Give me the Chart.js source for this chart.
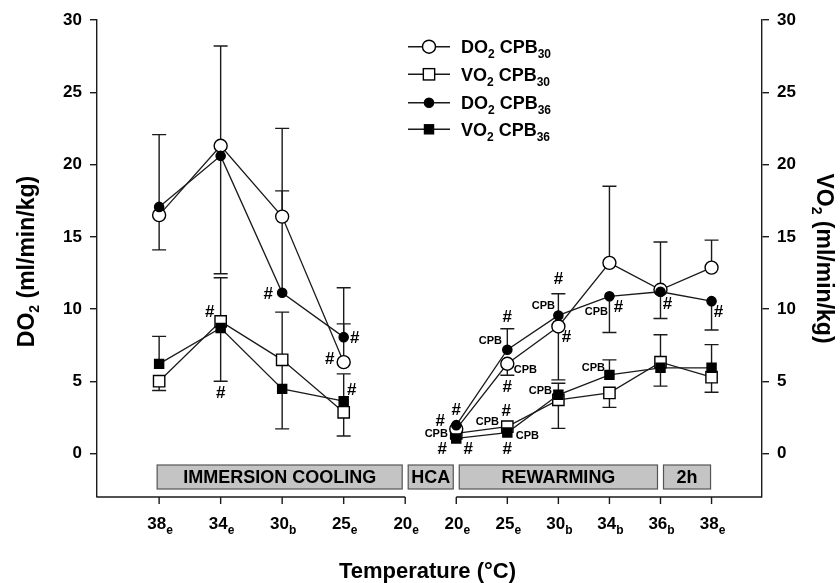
<!DOCTYPE html>
<html><head><meta charset="utf-8">
<script src="https://cdn.jsdelivr.net/npm/chart.js@4/dist/chart.umd.min.js"></script>
<style>html,body{margin:0;padding:0;background:#fff}#wrap{width:840px;height:583px}</style>
</head><body><div id="wrap"><canvas id="c" width="840" height="583"></canvas></div>
<script>
// ---- data ----
const tickMain = ['38','34','30','25','20','20','25','30','34','36','38'];
const tickSub  = ['e','e','b','e','e','e','e','b','b','b','e'];
const categoryX = [0,1,2,3,4,4.83,5.66,6.49,7.32,8.15,8.98];

const do2Cpb30 = [16.5, 21.3, 16.4, 6.33, null, 1.7, 6.22, 8.8, 13.2, 11.34, 12.87];
const vo2Cpb30 = [5.01, 9.15, 6.49, 2.86, null, 1.4, 1.87, 3.72, 4.2, 6.33, 5.29];
const do2Cpb36 = [17.07, 20.6, 11.13, 8.06, null, 1.97, 7.19, 9.56, 10.88, 11.2, 10.55];
const vo2Cpb36 = [6.21, 8.69, 4.48, 3.63, null, 1.05, 1.46, 4.07, 5.45, 5.94, 5.94];

const do2Cpb30Up   = [null, 6.9, 6.1, 2.65, null, null, null, null, 5.3, 3.3, 1.9];
const do2Cpb30Down = [2.4, null, null, null, null, null, 0.8, 3.7, null, null, null];
const vo2Cpb30Up   = [null, 3.02, 3.3, null, null, null, null, null, null, 1.9, null];
const vo2Cpb30Down = [0.64, null, 4.78, 1.64, null, null, null, 1.97, 1.0, null, 1.04];
const do2Cpb36Up   = [5.0, null, 7.05, 3.42, null, null, 1.45, 1.5, null, null, null];
const do2Cpb36Down = [null, 8.15, null, null, null, null, null, null, 2.5, 1.85, 2.0];
const vo2Cpb36Up   = [1.9, null, null, 1.89, null, null, null, 0.8, 1.04, null, 1.6];
const vo2Cpb36Down = [null, 3.68, null, null, null, null, null, null, null, 1.27, null];

const yTicks = [0,5,10,15,20,25,30];

const phases = [
  {label:'IMMERSION COOLING', from:0, to:4},
  {label:'HCA', from:4, to:5},
  {label:'REWARMING', from:5, to:9},
  {label:'2h', from:9, to:10}
];

// marks: category index, pixel nudge, value, text
const marks = [
  {i:1, dx:-11, v:9.79, t:'#'}, {i:1, dx:0, v:4.14, t:'#'},
  {i:2, dx:-14, v:11.0, t:'#'},
  {i:3, dx:11, v:7.95, t:'#'}, {i:3, dx:-14, v:6.51, t:'#'}, {i:3, dx:8, v:4.37, t:'#'},
  {i:5, dx:0, v:3.03, t:'#'}, {i:5, dx:-16, v:2.22, t:'#'}, {i:5, dx:-20, v:1.36, t:'CPB'},
  {i:5, dx:-14, v:0.28, t:'#'}, {i:5, dx:12, v:0.28, t:'#'},
  {i:6, dx:0, v:9.45, t:'#'}, {i:6, dx:-17, v:7.78, t:'CPB'}, {i:6, dx:18, v:5.8, t:'CPB'},
  {i:6, dx:0, v:4.6, t:'#'}, {i:6, dx:-1, v:2.91, t:'#'}, {i:6, dx:-20, v:2.22, t:'CPB'},
  {i:6, dx:20, v:1.25, t:'CPB'}, {i:6, dx:0, v:0.28, t:'#'},
  {i:7, dx:0, v:12.04, t:'#'}, {i:7, dx:-15, v:10.19, t:'CPB'}, {i:7, dx:8, v:8.02, t:'#'},
  {i:7, dx:-18, v:4.32, t:'CPB'},
  {i:8, dx:-13, v:9.79, t:'CPB'}, {i:8, dx:9, v:10.14, t:'#'}, {i:8, dx:-16, v:5.94, t:'CPB'},
  {i:9, dx:7, v:10.3, t:'#'},
  {i:10, dx:7, v:9.79, t:'#'}
];

// ---- chart ----
const FONT = '"Liberation Sans", Arial, Helvetica, sans-serif';
const INK = '#1a1a1a';
const toPts = arr => arr.map((v, k) => ({x: categoryX[k], y: v}));

const series = [
  {name:['DO','2',' CPB','30'], vals:do2Cpb30, up:do2Cpb30Up, down:do2Cpb30Down, style:'circle', r:6.5, fill:'#ffffff', order:1},
  {name:['VO','2',' CPB','30'], vals:vo2Cpb30, up:vo2Cpb30Up, down:vo2Cpb30Down, style:'rect', r:8, fill:'#ffffff', order:1},
  {name:['DO','2',' CPB','36'], vals:do2Cpb36, up:do2Cpb36Up, down:do2Cpb36Down, style:'circle', r:4.6, fill:'#000000', order:0},
  {name:['VO','2',' CPB','36'], vals:vo2Cpb36, up:vo2Cpb36Up, down:vo2Cpb36Down, style:'rect', r:6.4, fill:'#000000', order:0}
];

function rich(ctx, segs, x, y, align) {
  let w = 0;
  segs.forEach(s => { ctx.font = s.f; s.w = ctx.measureText(s.t).width; w += s.w; });
  let cx = align === 'center' ? x - w / 2 : (align === 'right' ? x - w : x);
  ctx.textAlign = 'left';
  ctx.textBaseline = 'alphabetic';
  segs.forEach(s => { ctx.font = s.f; ctx.fillText(s.t, cx, y + (s.dy || 0)); cx += s.w; });
  return w;
}

const decor = {
  id: 'decor',
  beforeDatasetsDraw(chart) {
    const ctx = chart.ctx, xs = chart.scales.x, ys = chart.scales.y;
    ctx.save();
    ctx.strokeStyle = INK; ctx.lineWidth = 1.4;
    series.forEach(s => {
      s.vals.forEach((v, k) => {
        if (v === null) return;
        const px = xs.getPixelForValue(categoryX[k]);
        [[s.up[k], 1], [s.down[k], -1]].forEach(([e, sg]) => {
          if (e === null || e === undefined) return;
          const y0 = ys.getPixelForValue(v), y1 = ys.getPixelForValue(v + sg * e);
          ctx.beginPath();
          ctx.moveTo(px, y0); ctx.lineTo(px, y1);
          ctx.moveTo(px - 7, y1); ctx.lineTo(px + 7, y1);
          ctx.stroke();
        });
      });
    });
    ctx.restore();
  },
  afterDraw(chart) {
    const ctx = chart.ctx, xs = chart.scales.x, ys = chart.scales.y, ca = chart.chartArea;
    const X = k => xs.getPixelForValue(categoryX[k]);
    ctx.save();
    ctx.fillStyle = '#000'; ctx.strokeStyle = INK;
    // broken x axis
    ctx.lineWidth = 1.4;
    ctx.beginPath();
    ctx.moveTo(ca.left, ca.bottom); ctx.lineTo(X(4), ca.bottom);
    ctx.moveTo(X(5), ca.bottom); ctx.lineTo(ca.right, ca.bottom);
    categoryX.forEach((_, k) => { ctx.moveTo(X(k), ca.bottom); ctx.lineTo(X(k), ca.bottom + 7); });
    ctx.stroke();
    // x tick labels
    tickMain.forEach((m, k) => {
      rich(ctx, [{t:m, f:'bold 17px ' + FONT}, {t:tickSub[k], f:'bold 12px ' + FONT, dy:5}], X(k) + 1, ca.bottom + 32, 'center');
    });
    // phase boxes
    phases.forEach(p => {
      const l = X(p.from) + (p.from === 0 ? -2 : 3), r = X(p.to) - (p.to === 10 ? 1 : 3);
      const t = ca.bottom - 32, b = ca.bottom - 8;
      ctx.fillStyle = '#c4c4c4'; ctx.fillRect(l, t, r - l, b - t);
      ctx.strokeStyle = '#555'; ctx.lineWidth = 1.2; ctx.strokeRect(l, t, r - l, b - t);
      ctx.fillStyle = '#000'; ctx.font = 'bold 18px ' + FONT;
      ctx.textAlign = 'center'; ctx.textBaseline = 'middle';
      ctx.fillText(p.label, (l + r) / 2, (t + b) / 2 + 1);
    });
    // marks
    ctx.textAlign = 'center'; ctx.textBaseline = 'middle'; ctx.fillStyle = '#000';
    marks.forEach(m => {
      ctx.font = (m.t === '#' ? 'bold 17px ' : 'bold 11px ') + FONT;
      ctx.fillText(m.t, X(m.i) + m.dx, ys.getPixelForValue(m.v));
    });
    // legend
    const rows = [46.7, 74.3, 102.7, 129.3];
    series.forEach((s, k) => {
      const y = rows[k];
      ctx.strokeStyle = INK; ctx.lineWidth = 1.4;
      ctx.beginPath(); ctx.moveTo(408, y); ctx.lineTo(450, y); ctx.stroke();
      ctx.fillStyle = s.fill; ctx.strokeStyle = '#000'; ctx.lineWidth = 1.4;
      if (s.style === 'circle') { ctx.beginPath(); ctx.arc(429, y, s.r, 0, Math.PI * 2); ctx.fill(); ctx.stroke(); }
      else { const h = s.r * Math.SQRT1_2; ctx.fillRect(429 - h, y - h, 2 * h, 2 * h); ctx.strokeRect(429 - h, y - h, 2 * h, 2 * h); }
      ctx.fillStyle = '#000';
      rich(ctx, [
        {t:s.name[0], f:'bold 18px ' + FONT}, {t:s.name[1], f:'bold 12px ' + FONT, dy:5},
        {t:s.name[2], f:'bold 18px ' + FONT}, {t:s.name[3], f:'bold 12px ' + FONT, dy:5}
      ], 461, y + 6.5, 'left');
    });
    // axis titles
    const mid = (ca.top + ca.bottom) / 2;
    const titleSegs = p => [{t:p, f:'bold 23px ' + FONT}, {t:'2', f:'bold 14px ' + FONT, dy:5}, {t:' (ml/min/kg)', f:'bold 23px ' + FONT}];
    ctx.save(); ctx.translate(26, mid + 3); ctx.rotate(-Math.PI / 2);
    rich(ctx, titleSegs('DO'), 0, 8, 'center'); ctx.restore();
    ctx.save(); ctx.translate(825, mid); ctx.rotate(Math.PI / 2);
    rich(ctx, titleSegs('VO'), 0, 8, 'center'); ctx.restore();
    ctx.font = 'bold 22px ' + FONT; ctx.textAlign = 'center'; ctx.textBaseline = 'alphabetic';
    ctx.fillText('Temperature (\u00B0C)', (ca.left + ca.right) / 2 - 2, 578);
    ctx.restore();
  }
};

const ds = series.map(s => ({
  label: s.name.join(''),
  data: toPts(s.vals),
  borderColor: INK, borderWidth: 1.3,
  pointStyle: s.style, pointRadius: s.r, pointBackgroundColor: s.fill,
  pointBorderColor: '#000', pointBorderWidth: 1.4,
  fill: false, spanGaps: false, tension: 0, order: s.order
}));

const yOpts = (pos, width) => ({
  position: pos, min: -3, max: 30,
  afterFit: sc => { sc.width = width; },
  afterBuildTicks: sc => { sc.ticks = yTicks.map(v => ({value: v})); },
  grid: {drawOnChartArea: false, drawTicks: true, tickLength: 7, color: INK, lineWidth: 1.4},
  border: {display: true, color: INK, width: 1.4},
  ticks: {color: '#000', font: {family: FONT, size: 17, weight: 'bold'}, padding: 8}
});

new Chart(document.getElementById('c'), {
  type: 'line',
  data: {datasets: ds},
  options: {
    responsive: false, animation: false, devicePixelRatio: 1,
    layout: {padding: {top: 20, bottom: 86, left: 0, right: 0}},
    plugins: {legend: {display: false}, tooltip: {enabled: false}, title: {display: false}},
    scales: {
      x: {type: 'linear', display: false, min: -1.01, max: 9.8},
      y: yOpts('left', 97),
      y2: yOpts('right', 78)
    }
  },
  plugins: [decor]
});
</script></body></html>
